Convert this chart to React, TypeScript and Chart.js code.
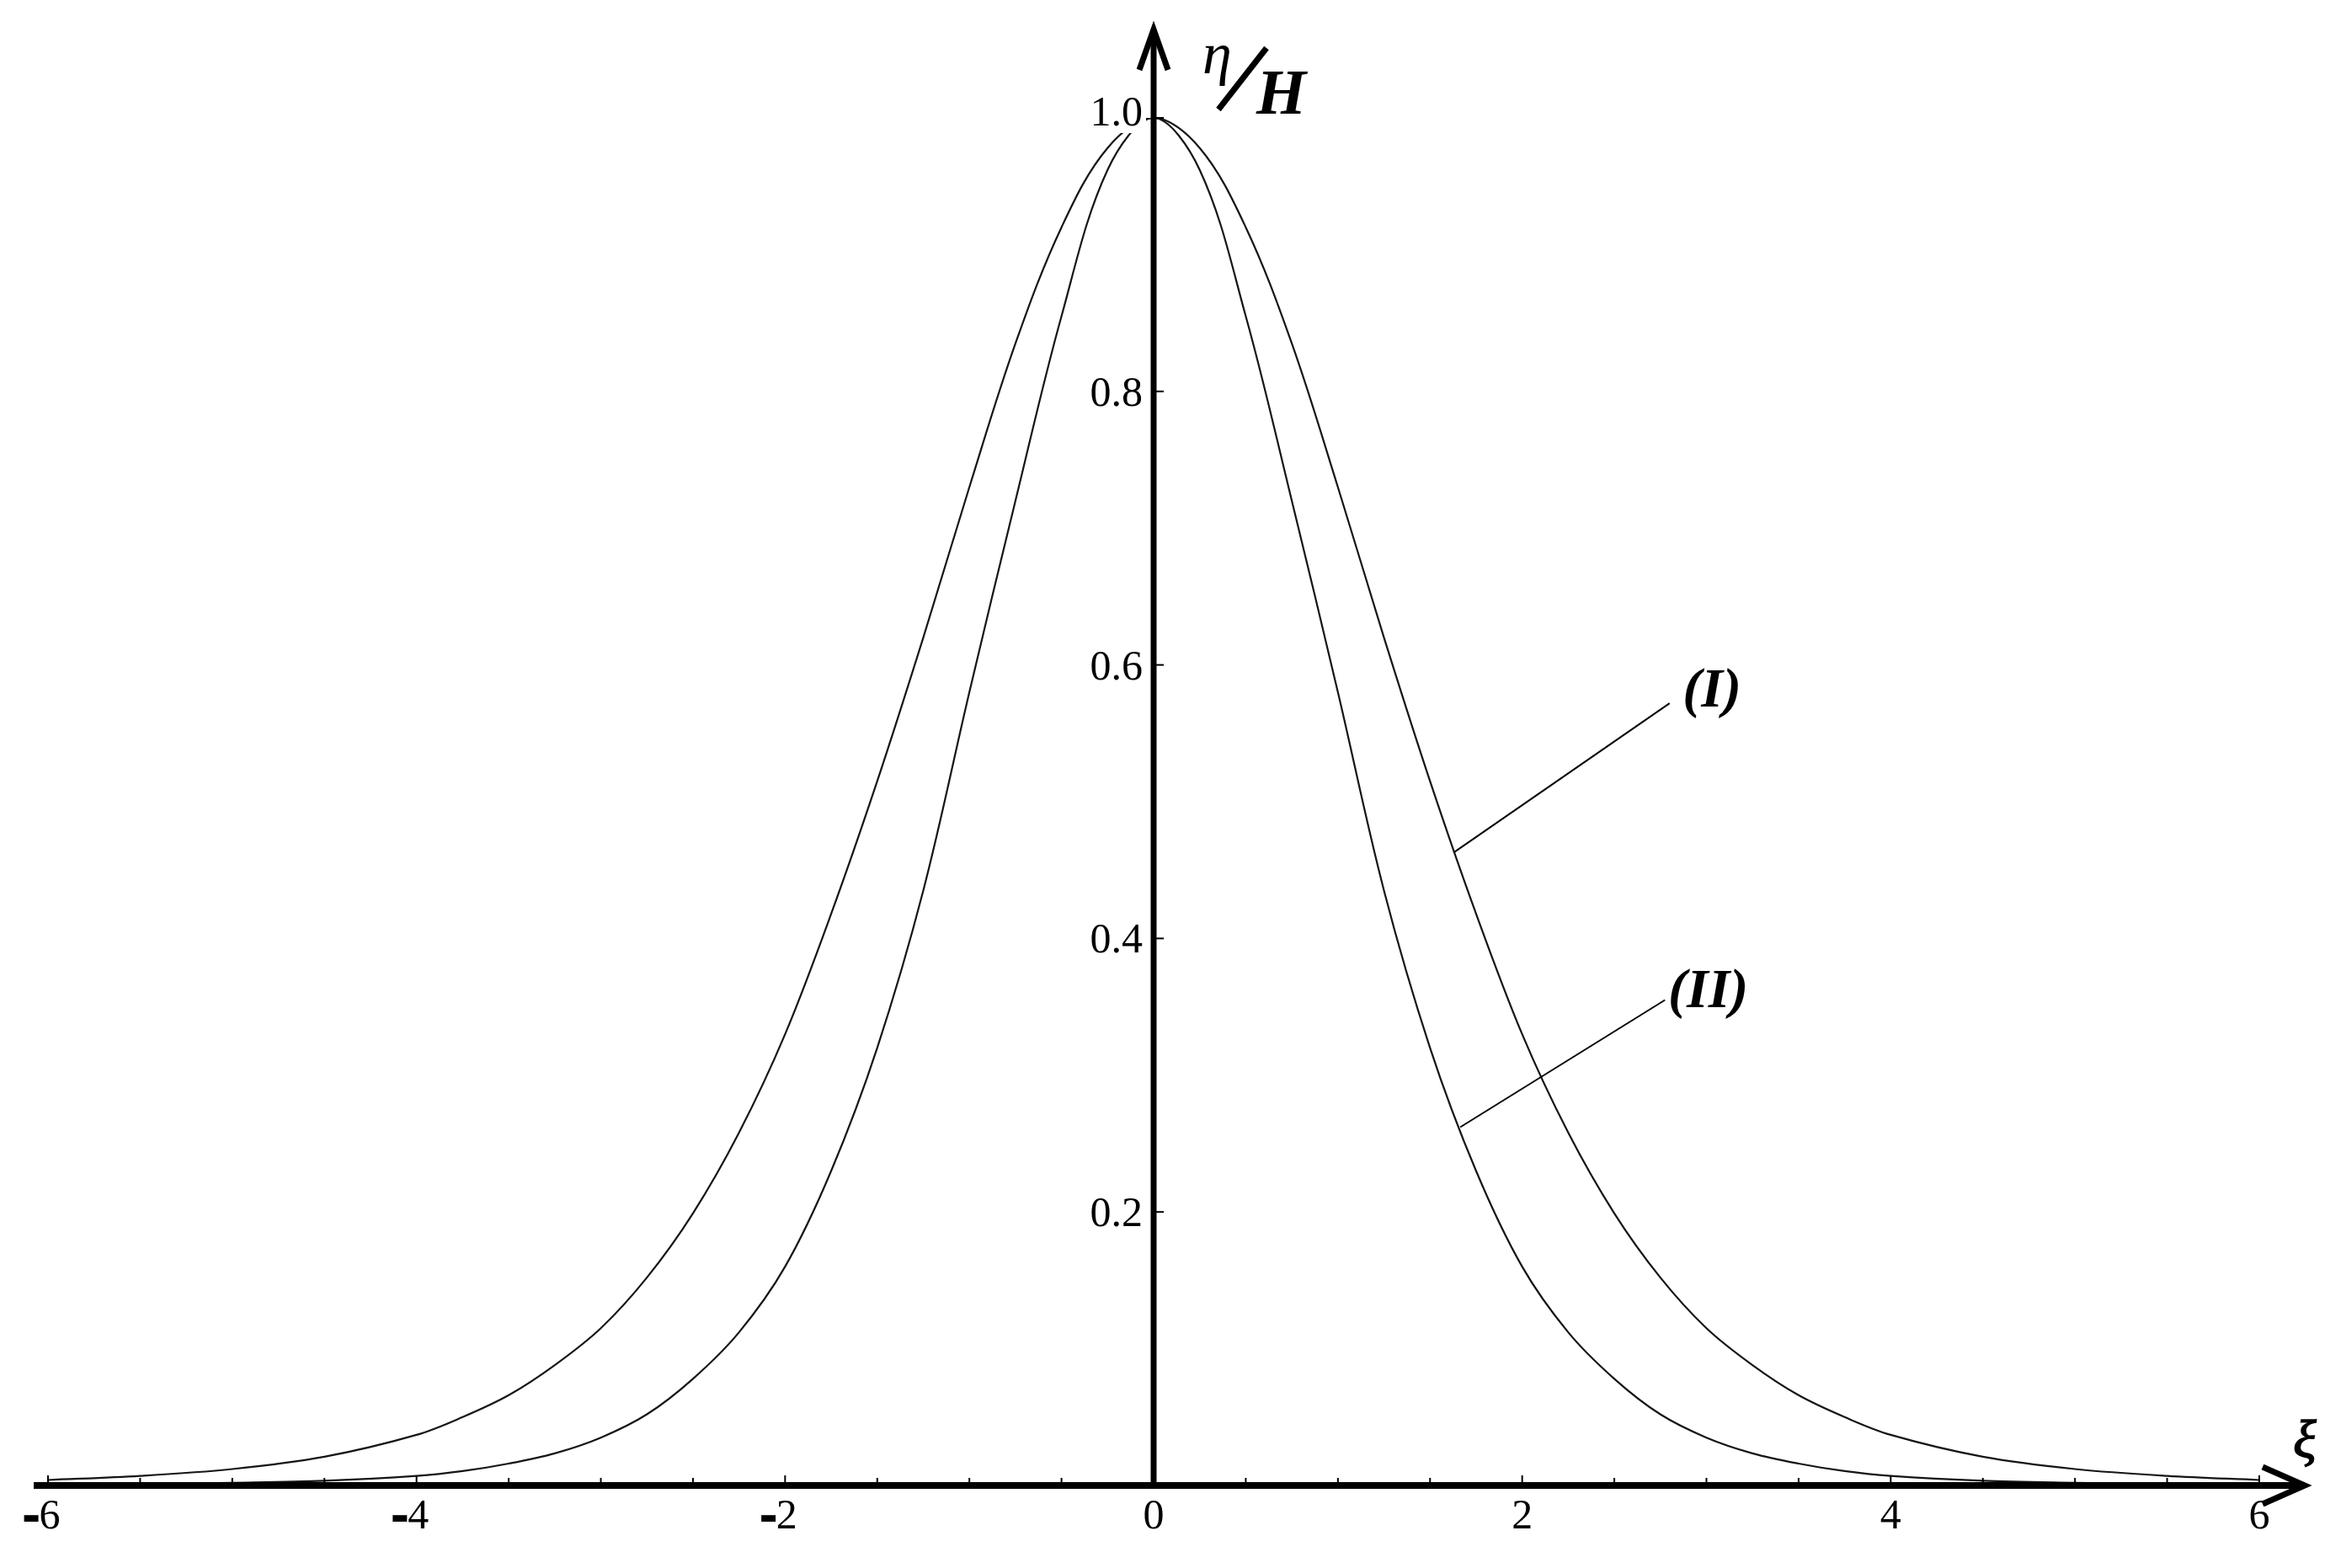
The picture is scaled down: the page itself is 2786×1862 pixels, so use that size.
import React, { useEffect, useRef } from "react";
import { Chart, registerables } from "chart.js";

Chart.register(...registerables);

// ---- data ----
const xiValues = [
  -6, -5.5, -5, -4.5, -4, -3.75, -3.5, -3.25, -3, -2.75, -2.5, -2.25, -2, -1.75, -1.5, -1.25, -1, -0.75, -0.5, -0.25,
  0,
  0.25, 0.5, 0.75, 1, 1.25, 1.5, 1.75, 2, 2.25, 2.5, 2.75, 3, 3.25, 3.5, 3.75, 4, 4.5, 5, 5.5, 6,
];

// curve (I): wider profile
const curveI = [
  0.004, 0.007, 0.012, 0.021, 0.037, 0.05, 0.066, 0.088, 0.115, 0.152, 0.199, 0.258, 0.33, 0.418, 0.515, 0.62, 0.73, 0.835, 0.92, 0.978,
  1.0,
  0.978, 0.92, 0.835, 0.73, 0.62, 0.515, 0.418, 0.33, 0.258, 0.199, 0.152, 0.115, 0.088, 0.066, 0.05, 0.037, 0.021, 0.012, 0.007, 0.004,
];

// curve (II): narrower profile
const curveII = [
  0.0005, 0.001, 0.002, 0.0035, 0.007, 0.0105, 0.016, 0.0235, 0.035, 0.052, 0.078, 0.112, 0.16, 0.23, 0.32, 0.435, 0.58, 0.72, 0.855, 0.962,
  1.0,
  0.962, 0.855, 0.72, 0.58, 0.435, 0.32, 0.23, 0.16, 0.112, 0.078, 0.052, 0.035, 0.0235, 0.016, 0.0105, 0.007, 0.0035, 0.002, 0.001, 0.0005,
];

const xTickValues = [-6, -4, -2, 0, 2, 4, 6];
const xTickLabels = ["-6", "-4", "-2", "0", "2", "4", "6"];
const yTickValues = [0.2, 0.4, 0.6, 0.8, 1.0];
const yTickLabels = ["0.2", "0.4", "0.6", "0.8", "1.0"];

// curve labels with leader lines (in data units)
const curveLabels = [
  { text: "(I)", at: [3.03, 0.58], from: [1.63, 0.463], to: [2.8, 0.572] },
  { text: "(II)", at: [3.01, 0.36], from: [1.664, 0.262], to: [2.775, 0.355] },
];

const SERIF = '"Liberation Serif", "Times New Roman", serif';

const mathAxesPlugin = {
  id: "mathAxes",
  afterDatasetsDraw(chart: any) {
    const ctx: CanvasRenderingContext2D = chart.ctx;
    const xs = chart.scales.x;
    const ys = chart.scales.y;
    const x0 = xs.getPixelForValue(0);
    const y0 = ys.getPixelForValue(0);
    const yTop = ys.getPixelForValue(1);
    const xRight = xs.getPixelForValue(6);
    const xLeft = xs.getPixelForValue(-6);

    ctx.save();

    // y tick labels with white backdrop
    ctx.font = `50px ${SERIF}`;
    ctx.textAlign = "right";
    ctx.textBaseline = "alphabetic";
    ys.ticks.forEach((t: any) => {
      const py = ys.getPixelForValue(t.value);
      const label = String(t.label);
      const w = ctx.measureText(label).width;
      const shift = t.value === 1 ? -8 : 0;
      ctx.fillStyle = "#ffffff";
      ctx.fillRect(x0 - 13 - w - 4, py - 30 + shift, w + 8, 56);
      ctx.fillStyle = "#000000";
      ctx.fillText(label, x0 - 13, py + 17 + shift);
    });

    ctx.strokeStyle = "#000000";
    ctx.lineCap = "butt";
    ctx.lineJoin = "miter";

    // x axis line
    ctx.lineWidth = 8;
    ctx.beginPath();
    ctx.moveTo(xLeft - 17, y0);
    ctx.lineTo(xRight + 54, y0);
    ctx.stroke();
    // x arrow
    ctx.lineWidth = 7;
    ctx.beginPath();
    ctx.moveTo(xRight + 4, y0 - 22);
    ctx.lineTo(xRight + 54, y0);
    ctx.lineTo(xRight + 4, y0 + 22);
    ctx.stroke();

    // y axis line
    ctx.lineWidth = 7;
    ctx.beginPath();
    ctx.moveTo(x0, y0 + 4);
    ctx.lineTo(x0, yTop - 105);
    ctx.stroke();
    // y arrow
    ctx.lineWidth = 7;
    ctx.beginPath();
    ctx.moveTo(x0 - 17, yTop - 57);
    ctx.lineTo(x0, yTop - 105);
    ctx.lineTo(x0 + 17, yTop - 57);
    ctx.stroke();

    // x ticks (every 0.5, longer at labelled values)
    ctx.lineWidth = 2;
    const majorSet = new Set(xs.ticks.map((t: any) => t.value));
    for (let v = xs.min; v <= xs.max + 1e-9; v += 0.5) {
      if (Math.abs(v) < 1e-9) continue;
      const px = xs.getPixelForValue(v);
      const len = majorSet.has(v) ? 8 : 5;
      ctx.beginPath();
      ctx.moveTo(px, y0 - 3);
      ctx.lineTo(px, y0 - 4 - len);
      ctx.stroke();
    }
    // y ticks (to the right of axis)
    ys.ticks.forEach((t: any) => {
      const py = ys.getPixelForValue(t.value);
      ctx.beginPath();
      ctx.moveTo(x0 + 3, py);
      ctx.lineTo(x0 + 12, py);
      ctx.stroke();
    });

    // x tick labels (digits centred on the tick, heavy minus sign before them)
    ctx.font = `50px ${SERIF}`;
    ctx.textBaseline = "alphabetic";
    ctx.fillStyle = "#000000";
    xs.ticks.forEach((t: any) => {
      const px = xs.getPixelForValue(t.value);
      const label = String(t.label);
      const neg = label.startsWith("-");
      const digits = neg ? label.slice(1) : label;
      ctx.textAlign = "center";
      ctx.fillText(digits, px + (neg ? 2 : 0), y0 + 51);
      if (neg) {
        const dw = ctx.measureText(digits).width;
        ctx.textAlign = "right";
        ctx.lineWidth = 4;
        ctx.strokeText("-", px + 2 - dw / 2 - 1, y0 + 51);
        ctx.fillText("-", px + 2 - dw / 2 - 1, y0 + 51);
      }
    });

    // axis titles
    ctx.textAlign = "left";
    ctx.font = `italic 70px ${SERIF}`;
    ctx.fillText("η", x0 + 58, yTop - 53);
    ctx.lineWidth = 7;
    ctx.beginPath();
    ctx.moveTo(x0 + 77, yTop - 10);
    ctx.lineTo(x0 + 134, yTop - 83);
    ctx.stroke();
    ctx.font = `bold italic 76px ${SERIF}`;
    ctx.fillText("H", x0 + 122, yTop - 5);

    ctx.textAlign = "center";
    ctx.font = `italic 64px ${SERIF}`;
    ctx.lineWidth = 1.5;
    ctx.strokeText("ξ", xRight + 54, y0 - 33);
    ctx.fillText("ξ", xRight + 54, y0 - 33);

    // curve labels and leader lines
    ctx.lineWidth = 2;
    curveLabels.forEach((c) => {
      ctx.beginPath();
      ctx.moveTo(xs.getPixelForValue(c.from[0]), ys.getPixelForValue(c.from[1]));
      ctx.lineTo(xs.getPixelForValue(c.to[0]), ys.getPixelForValue(c.to[1]));
      ctx.stroke();
      ctx.font = `bold italic 66px ${SERIF}`;
      ctx.textAlign = "center";
      ctx.textBaseline = "middle";
      ctx.fillText(c.text, xs.getPixelForValue(c.at[0]), ys.getPixelForValue(c.at[1]));
    });

    ctx.restore();
  },
};

export default function App() {
  const canvasRef = useRef<HTMLCanvasElement>(null);

  useEffect(() => {
    document.body.style.margin = "0";
    document.body.style.background = "#ffffff";
    const canvas = canvasRef.current;
    if (!canvas) return;

    const chart = new Chart(canvas, {
      type: "line",
      data: {
        datasets: [
          {
            label: "(I)",
            data: xiValues.map((x, i) => ({ x, y: curveI[i] })),
            borderColor: "#151515",
            borderWidth: 2.2,
            pointRadius: 0,
            fill: false,
            tension: 0.35,
          },
          {
            label: "(II)",
            data: xiValues.map((x, i) => ({ x, y: curveII[i] })),
            borderColor: "#151515",
            borderWidth: 2.2,
            pointRadius: 0,
            fill: false,
            tension: 0.35,
          },
        ],
      },
      options: {
        animation: false,
        responsive: false,
        devicePixelRatio: 1,
        events: [],
        layout: { padding: { left: 57, right: 103, top: 140, bottom: 98 } },
        plugins: {
          legend: { display: false },
          title: { display: false },
          tooltip: { enabled: false },
        },
        scales: {
          x: {
            type: "linear",
            min: -6,
            max: 6,
            display: false,
            afterBuildTicks: (scale: any) => {
              scale.ticks = xTickValues.map((v) => ({ value: v }));
            },
            ticks: {
              autoSkip: false,
              callback: (_v: any, i: number) => xTickLabels[i],
            },
          },
          y: {
            type: "linear",
            min: 0,
            max: 1,
            display: false,
            afterBuildTicks: (scale: any) => {
              scale.ticks = yTickValues.map((v) => ({ value: v }));
            },
            ticks: {
              autoSkip: false,
              callback: (_v: any, i: number) => yTickLabels[i],
            },
          },
        },
      },
      plugins: [mathAxesPlugin],
    } as any);

    return () => chart.destroy();
  }, []);

  return (
    <div style={{ width: 2786, height: 1862, background: "#ffffff" }}>
      <canvas ref={canvasRef} width={2786} height={1862} style={{ display: "block", width: 2786, height: 1862 }} />
    </div>
  );
}
